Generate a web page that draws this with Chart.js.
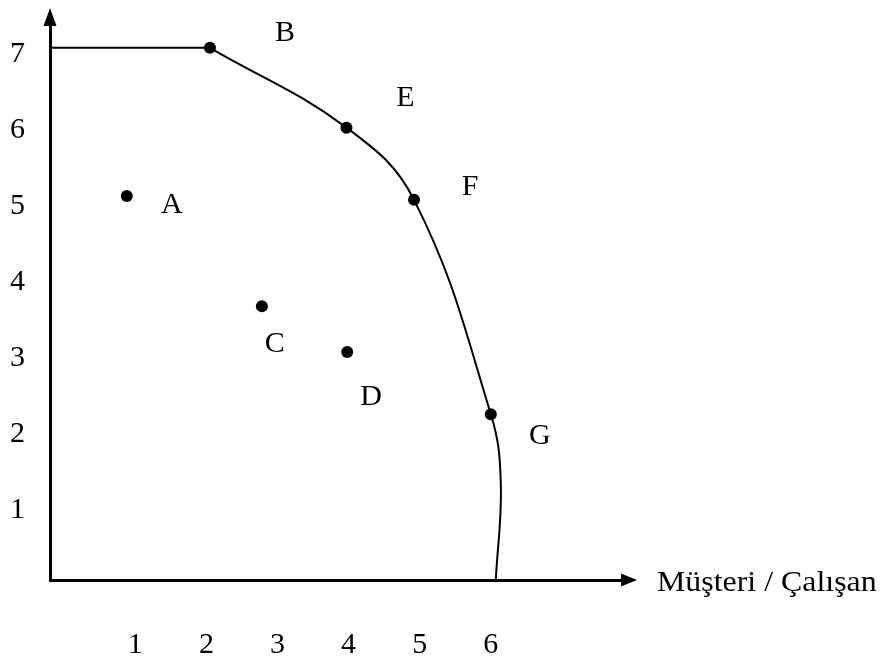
<!DOCTYPE html>
<html>
<head>
<meta charset="utf-8">
<script src="https://cdn.jsdelivr.net/npm/chart.js@4"></script>
<style>
  html, body { margin: 0; padding: 0; background: #fff; }
  canvas { display: block; }
</style>
</head>
<body>
<canvas id="frontierChart" width="881" height="663"></canvas>
<script>
// named points (customers / employee on x, second output on y)
var pointNames = ["A", "B", "C", "D", "E", "F", "G"];
var pointX = [0.88, 2.05, 2.78, 3.98, 3.97, 4.92, 6.0];
var pointY = [5.05, 7, 3.6, 3.0, 5.95, 5.0, 2.18];

// frontier: flat part at y = 7, then the curve through B, E, F, G down to the x axis
var flatX = [-0.2, 2.05];
var flatY = [7, 7];
var curveX = [2.05, 3.97, 4.92, 6.0, 6.14, 6.07];
var curveY = [7, 5.95, 5.0, 2.18, 1.28, 0];

var xTicks = [1, 2, 3, 4, 5, 6];
var yTicks = [1, 2, 3, 4, 5, 6, 7];
var axisTitle = "Müşteri / Çalışan";

// where each letter sits relative to its dot, in px
var letterOffsets = {
	A: [45, 9], B: [75, -15], C: [13, 38], D: [24, 45],
	E: [59, -30], F: [56, -13], G: [49, 22]
};

var serif = '"Liberation Serif", "Times New Roman", serif';

function toXY(xs, ys) {
	return xs.map(function (x, i) { return { x: x, y: ys[i] }; });
}

var pointLetters = {
	id: 'pointLetters',
	afterDatasetsDraw: function (chart) {
		var ctx = chart.ctx;
		var meta = chart.getDatasetMeta(2);
		ctx.save();
		ctx.font = '30px ' + serif;
		ctx.fillStyle = '#000';
		ctx.textAlign = 'center';
		ctx.textBaseline = 'middle';
		meta.data.forEach(function (el, i) {
			var off = letterOffsets[pointNames[i]];
			ctx.fillText(pointNames[i], el.x + off[0], el.y + off[1]);
		});
		ctx.restore();
	}
};

var axisArrows = {
	id: 'axisArrows',
	afterDraw: function (chart) {
		var ctx = chart.ctx;
		var a = chart.chartArea;
		var x0 = chart.scales.y.right;
		var y0 = chart.scales.x.top;
		ctx.save();
		ctx.fillStyle = '#000';
		// up arrow
		ctx.beginPath();
		ctx.moveTo(x0, a.top - 17);
		ctx.lineTo(x0 - 6.5, a.top + 1);
		ctx.lineTo(x0 + 6.5, a.top + 1);
		ctx.closePath();
		ctx.fill();
		// right arrow
		ctx.beginPath();
		ctx.moveTo(a.right + 15, y0);
		ctx.lineTo(a.right - 1, y0 - 6.5);
		ctx.lineTo(a.right - 1, y0 + 6.5);
		ctx.closePath();
		ctx.fill();
		// axis name, a little wider than the plain font
		ctx.font = '29px ' + serif;
		ctx.textAlign = 'left';
		ctx.textBaseline = 'middle';
		ctx.translate(a.right + 35, y0 + 3);
		ctx.scale(1.1, 1);
		ctx.fillText(axisTitle, 0, 0);
		ctx.restore();
	}
};

var ctx = document.getElementById("frontierChart").getContext("2d");
var myChart = new Chart(ctx, {
	type: 'scatter',
	data: {
		datasets: [{
			data: toXY(flatX, flatY),
			showLine: true,
			borderColor: '#000',
			borderWidth: 2,
			pointRadius: 0,
			tension: 0
		}, {
			data: toXY(curveX, curveY),
			showLine: true,
			borderColor: '#000',
			borderWidth: 2,
			pointRadius: 0,
			tension: 0.4
		}, {
			data: toXY(pointX, pointY),
			showLine: false,
			pointRadius: 6,
			pointBackgroundColor: '#000',
			pointBorderColor: '#000',
			pointBorderWidth: 0
		}]
	},
	options: {
		responsive: false,
		animation: false,
		layout: {
			padding: { top: 25, right: 259, left: 0, bottom: 0 }
		},
		plugins: {
			legend: { display: false },
			tooltip: { enabled: false }
		},
		scales: {
			x: {
				type: 'linear',
				min: -0.2,
				max: 7.845,
				grid: { display: false, drawTicks: false },
				border: { display: true, color: '#000', width: 3 },
				afterBuildTicks: function (scale) {
					scale.ticks = xTicks.map(function (v) { return { value: v }; });
				},
				afterFit: function (scale) {
					scale.height = 83;
					scale.paddingLeft = 0;
					scale.paddingRight = 0;
				},
				ticks: {
					color: '#000',
					padding: 47,
					font: { family: serif, size: 30 }
				}
			},
			y: {
				type: 'linear',
				min: 0,
				max: 7.3,
				grid: { display: false, drawTicks: false },
				border: { display: true, color: '#000', width: 3 },
				afterBuildTicks: function (scale) {
					scale.ticks = yTicks.map(function (v) { return { value: v }; });
				},
				afterFit: function (scale) {
					scale.width = 50;
					scale.paddingTop = 0;
					scale.paddingBottom = 0;
				},
				ticks: {
					color: '#000',
					padding: 25,
					labelOffset: 6,
					font: { family: serif, size: 30 }
				}
			}
		}
	},
	plugins: [pointLetters, axisArrows]
});
</script>
</body>
</html>
